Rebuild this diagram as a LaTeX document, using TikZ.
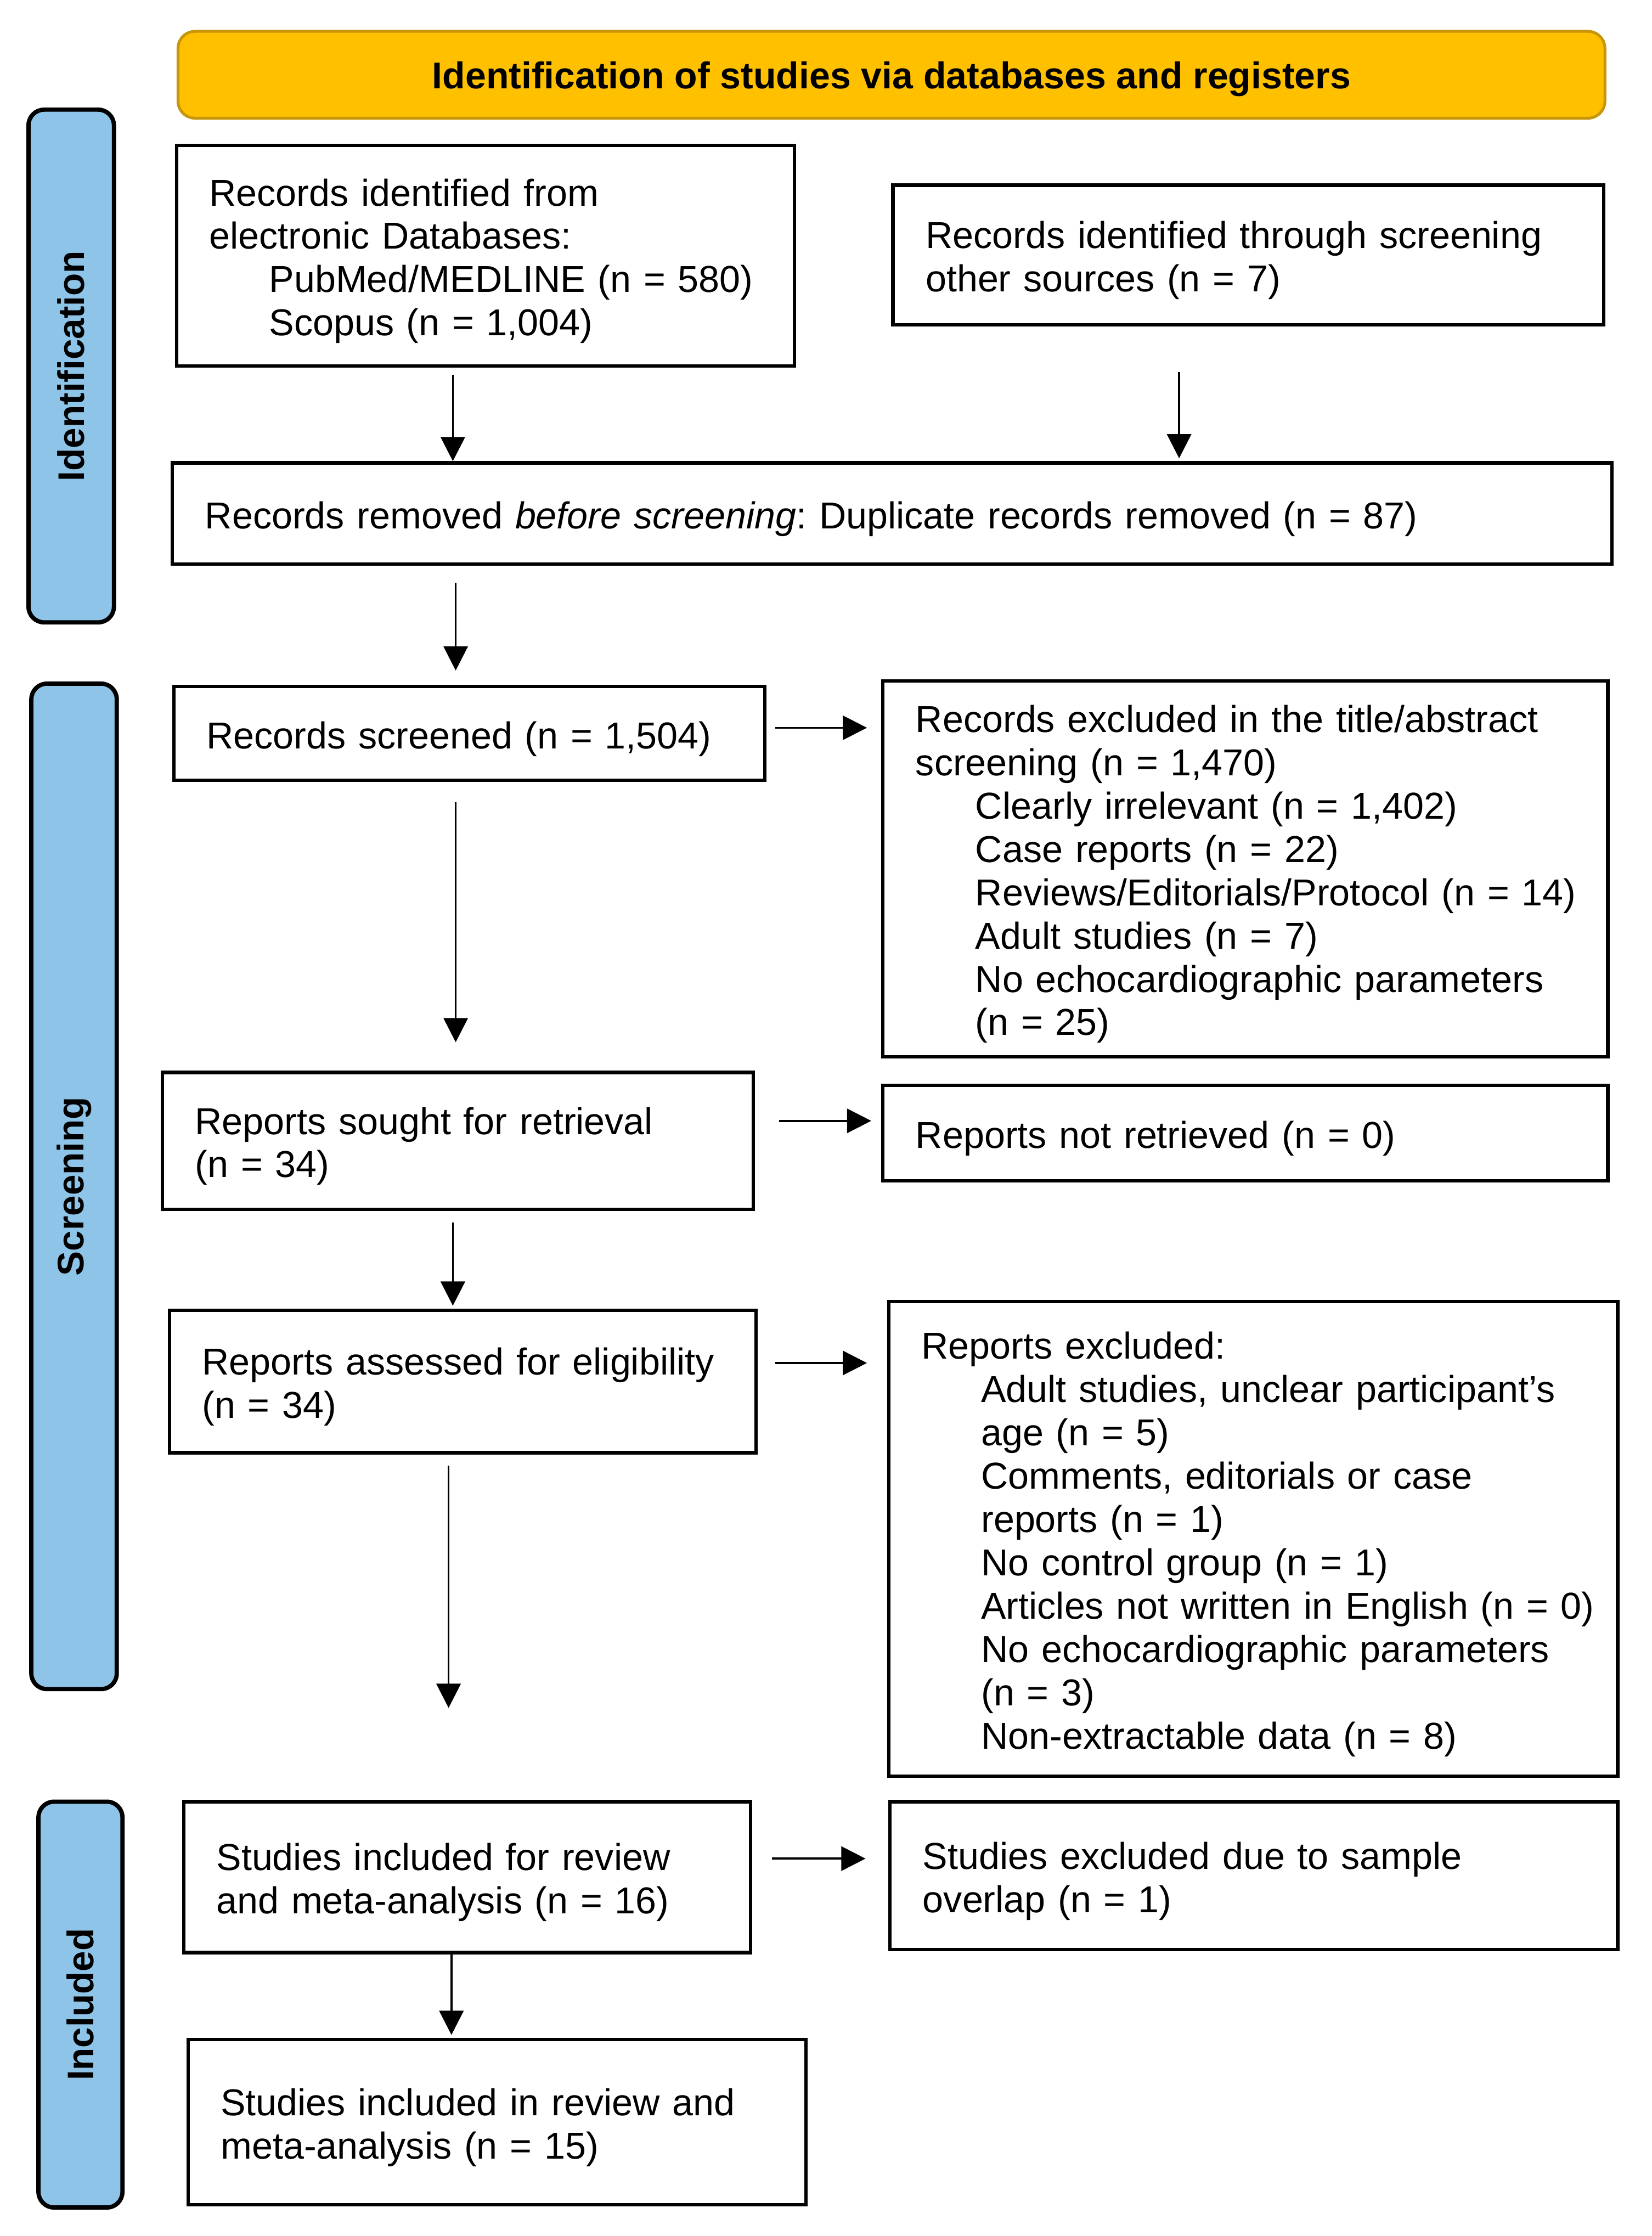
\documentclass[tikz,border=0pt]{standalone}
\usepackage{fontspec}
\setmainfont{Liberation Sans}
\usetikzlibrary{arrows.meta,calc}
\definecolor{hdrfill}{RGB}{255,192,0}
\definecolor{hdrline}{RGB}{200,150,10}
\definecolor{sidefill}{RGB}{143,196,233}
\frenchspacing
\newcommand\lns[1]{\raisebox{0pt}[\dimexpr\height+9pt\relax][\depth]{\begin{tabular}{@{}l@{}}#1\end{tabular}}}
\newcommand\lowr[1]{\raisebox{0pt}[\dimexpr\height+6pt\relax][\depth]{#1}}
\newcommand\ind{\hspace*{42pt}}
\begin{document}
\begin{tikzpicture}[x=1pt,y=-1pt,
  box/.style={draw=black, line width=2.4pt, fill=white, inner xsep=23pt, inner ysep=0pt,
    align=left, font=\fontsize{26.3}{30.4}\selectfont, anchor=center},
  side/.style={draw=black, line width=3pt, fill=sidefill, rounded corners=11pt, inner sep=0pt,
    rotate=90, font=\fontsize{26}{30}\selectfont\bfseries},
  arr/.style={line width=1.4pt, -{Triangle[length=17pt,width=17pt]}}
]
\fill[white] (0,0) rectangle (1160,1570);
\useasboundingbox (0,0) rectangle (1160,1570);

% header
\node[draw=hdrline, line width=2pt, fill=hdrfill, rounded corners=12pt, minimum width=1002pt,
  minimum height=61pt, inner sep=0pt, font=\fontsize{26.2}{30}\selectfont\bfseries] (hdr) at (626,52.5)
  {\lowr{Identification of studies via databases and registers}};

% side bars
\node[side, minimum width=360pt, minimum height=60pt] (s1) at (50,257) {Identification};
\node[side, minimum width=706pt, minimum height=60pt] (s2) at (52,833) {Screening};
\node[side, minimum width=285pt, minimum height=59pt] (s3) at (56.5,1407.5) {Included};

% boxes
\node[box, minimum width=434pt, minimum height=155pt, text width=388pt] (A) at (341,179.5)
  {\lns{Records identified from\\ electronic Databases:\\ \ind PubMed/MEDLINE (n = 580)\\ \ind Scopus (n = 1,004)}};
\node[box, minimum width=499pt, minimum height=98pt, text width=453pt] (B) at (876.5,179)
  {\lns{Records identified through screening\\ other sources (n = 7)}};
\node[box, minimum width=1011pt, minimum height=71pt, text width=965pt] (Dup) at (626.5,360.5)
  {\lns{Records removed \textit{before screening}: Duplicate records removed (n = 87)}};
\node[box, minimum width=415pt, minimum height=66pt, text width=369pt] (Scr) at (329.5,515)
  {\lns{Records screened (n = 1,504)}};
\node[box, minimum width=509pt, minimum height=264pt, text width=463pt] (Excl) at (874.5,610)
  {\lns{Records excluded in the title/abstract\\ screening (n = 1,470)\\
   \ind Clearly irrelevant (n = 1,402)\\ \ind Case reports (n = 22)\\
   \ind Reviews/Editorials/Protocol (n = 14)\\ \ind Adult studies (n = 7)\\
   \ind No echocardiographic parameters\\ \ind (n = 25)}};
\node[box, minimum width=415pt, minimum height=96pt, text width=369pt] (Sought) at (321.5,801)
  {\lns{Reports sought for retrieval\\ (n = 34)}};
\node[box, minimum width=509pt, minimum height=67pt, text width=463pt] (NotRet) at (874.5,795.5)
  {\lns{Reports not retrieved (n = 0)}};
\node[box, minimum width=412pt, minimum height=100pt, text width=366pt] (Assess) at (325,970)
  {\lns{Reports assessed for eligibility\\ (n = 34)}};
\node[box, minimum width=512pt, minimum height=333pt, text width=466pt] (RepExcl) at (880,1080.5)
  {\lns{Reports excluded:\\
   \ind Adult studies, unclear participant’s\\ \ind age (n = 5)\\
   \ind Comments, editorials or case\\ \ind reports (n = 1)\\
   \ind No control group (n = 1)\\ \ind Articles not written in English (n = 0)\\
   \ind No echocardiographic parameters\\ \ind (n = 3)\\
   \ind Non-extractable data (n = 8)}};
\node[box, minimum width=398pt, minimum height=106pt, text width=352pt] (Inc16) at (328,1318)
  {\lns{Studies included for review\\ and meta-analysis (n = 16)}};
\node[box, minimum width=511pt, minimum height=104pt, text width=465pt] (StExcl) at (880.5,1317)
  {\lns{Studies excluded due to sample\\ overlap (n = 1)}};
\node[box, minimum width=434pt, minimum height=116pt, text width=388pt] (Inc15) at (349,1490)
  {\lns{Studies included in review and\\ meta-analysis (n = 15)}};

\coordinate (fe) at ($(Assess.south)+(-10,178)$);

% connectors
\draw[arr] ($(A.south)+(-23,5)$) -- ($(Dup.north)+(-308.5,0)$);
\draw[arr] ($(B.south)+(-48.5,32)$) -- ($(Dup.north)+(201.5,-2)$);
\draw[arr] ($(Dup.south)+(-306.5,12)$) -- ($(Scr.north)+(-9.5,-10)$);
\draw[arr] ($(Scr.east)+(6,-4)$) -- ($(Excl.west)+(-10,-99)$);
\draw[arr] ($(Scr.south)+(-9.5,14)$) -- ($(Sought.north)+(-1.5,-20)$);
\draw[arr] ($(Sought.east)+(17,-14)$) -- ($(NotRet.west)+(-7,-8.5)$);
\draw[arr] ($(Sought.south)+(-3.5,8)$) -- ($(Assess.north)+(-7,-2)$);
\draw[arr] ($(Assess.east)+(12,-13)$) -- ($(RepExcl.west)+(-14,-123.5)$);
\draw[arr] ($(Assess.south)+(-10,8)$) -- (fe);
\draw[arr] ($(Inc16.east)+(14,-13)$) -- ($(StExcl.west)+(-16,-12)$);
\draw[arr] ($(Inc16.south)+(-11,0)$) -- ($(Inc15.north)+(-32,-2)$);
\end{tikzpicture}
\end{document}
